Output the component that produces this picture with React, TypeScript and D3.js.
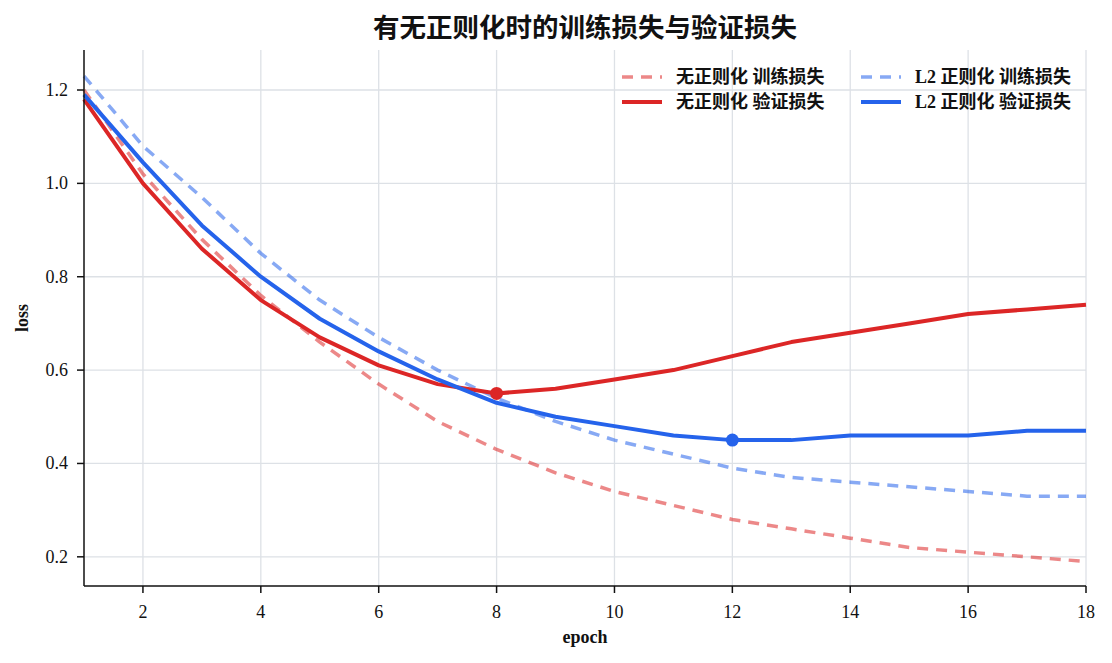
import React from "react";
import * as d3 from "d3";

// Epochs and per-epoch losses for the two training setups
const epochs = [1, 2, 3, 4, 5, 6, 7, 8, 9, 10, 11, 12, 13, 14, 15, 16, 17, 18];
const noRegTrain = [1.2, 1.02, 0.88, 0.76, 0.66, 0.57, 0.49, 0.43, 0.38, 0.34, 0.31, 0.28, 0.26, 0.24, 0.22, 0.21, 0.2, 0.19];
const noRegVal = [1.18, 1.0, 0.86, 0.75, 0.67, 0.61, 0.57, 0.55, 0.56, 0.58, 0.6, 0.63, 0.66, 0.68, 0.7, 0.72, 0.73, 0.74];
const l2Train = [1.23, 1.08, 0.97, 0.85, 0.75, 0.67, 0.6, 0.54, 0.49, 0.45, 0.42, 0.39, 0.37, 0.36, 0.35, 0.34, 0.33, 0.33];
const l2Val = [1.19, 1.045, 0.91, 0.8, 0.71, 0.64, 0.58, 0.53, 0.5, 0.48, 0.46, 0.45, 0.45, 0.46, 0.46, 0.46, 0.47, 0.47];

const xTicks = [2, 4, 6, 8, 10, 12, 14, 16, 18];
const yTicks = [0.2, 0.4, 0.6, 0.8, 1.0, 1.2];

const seriesNames = ["无正则化 训练损失", "无正则化 验证损失", "L2 正则化 训练损失", "L2 正则化 验证损失"];

const RED = "#dc2626";
const BLUE = "#2563eb";
const LATIN = "'Liberation Serif', 'Noto Sans CJK SC', serif";
const CJK = "'Liberation Serif', 'Noto Sans CJK SC', sans-serif";

const W = 1112;
const H = 663;
const m = { left: 84, right: 26, top: 50, bottom: 77 };

export default function App() {
  const x = d3.scaleLinear().domain([1, 18]).range([m.left, W - m.right]);
  const y = d3.scaleLinear().domain([0.1375, 1.2857]).range([H - m.bottom, m.top]);

  const line = d3
    .line<number>()
    .x((_, i) => x(epochs[i]))
    .y((d) => y(d));

  const series = [
    { data: noRegTrain, color: RED, dash: "11 8", width: 3.5, opacity: 0.55 },
    { data: l2Train, color: BLUE, dash: "11 8", width: 3.5, opacity: 0.55 },
    { data: noRegVal, color: RED, dash: null, width: 4, opacity: 1 },
    { data: l2Val, color: BLUE, dash: null, width: 4, opacity: 1 },
  ];

  // best validation epochs
  const redBest = noRegVal.indexOf(d3.min(noRegVal) as number);
  const blueBest = l2Val.indexOf(d3.min(l2Val) as number);

  const legend = [
    { name: seriesNames[0], color: RED, dash: "11 8", opacity: 0.55, col: 0, row: 0 },
    { name: seriesNames[1], color: RED, dash: null, opacity: 1, col: 0, row: 1 },
    { name: seriesNames[2], color: BLUE, dash: "11 8", opacity: 0.55, col: 1, row: 0 },
    { name: seriesNames[3], color: BLUE, dash: null, opacity: 1, col: 1, row: 1 },
  ];
  const legendX = [622, 861];
  const legendY = [77, 102];

  const x0 = m.left;
  const x1 = W - m.right;
  const yb = H - m.bottom;

  return (
    <svg width={W} height={H} style={{ position: "absolute", left: 0, top: 0, background: "#fff" }}>
      {/* grid */}
      <g stroke="#dde1e6" strokeWidth={1.3}>
        {xTicks.map((t) => (
          <line key={"gx" + t} x1={x(t)} x2={x(t)} y1={m.top} y2={yb} />
        ))}
        {yTicks.map((t) => (
          <line key={"gy" + t} x1={x0} x2={x1} y1={y(t)} y2={y(t)} />
        ))}
      </g>

      {/* lines */}
      {series.map((s, i) => (
        <path
          key={i}
          d={line(s.data) || ""}
          fill="none"
          stroke={s.color}
          strokeOpacity={s.opacity}
          strokeWidth={s.width}
          strokeDasharray={s.dash || undefined}
          strokeLinejoin="round"
        />
      ))}

      {/* best points */}
      <circle cx={x(epochs[redBest])} cy={y(noRegVal[redBest])} r={6.5} fill={RED} />
      <circle cx={x(epochs[blueBest])} cy={y(l2Val[blueBest])} r={6.5} fill={BLUE} />

      {/* axes */}
      <g stroke="#111" strokeWidth={1.5}>
        <line x1={x0} x2={x0} y1={m.top} y2={yb} />
        <line x1={x0} x2={x1} y1={yb} y2={yb} />
        {xTicks.map((t) => (
          <line key={"tx" + t} x1={x(t)} x2={x(t)} y1={yb} y2={yb + 7} />
        ))}
        {yTicks.map((t) => (
          <line key={"ty" + t} x1={x0 - 7} x2={x0} y1={y(t)} y2={y(t)} />
        ))}
      </g>
      <g fontFamily={LATIN} fontSize={18} fill="#111">
        {xTicks.map((t) => (
          <text key={"lx" + t} x={x(t)} y={yb + 32} textAnchor="middle">
            {t}
          </text>
        ))}
        {yTicks.map((t) => (
          <text key={"ly" + t} x={x0 - 16} y={y(t) + 6} textAnchor="end">
            {t.toFixed(1)}
          </text>
        ))}
      </g>

      <text x={(x0 + x1) / 2} y={643} textAnchor="middle" fontFamily={LATIN} fontSize={18} fontWeight="bold" fill="#111">
        epoch
      </text>
      <text
        transform={`translate(28, ${(m.top + yb) / 2}) rotate(-90)`}
        textAnchor="middle"
        fontFamily={LATIN}
        fontSize={18}
        fontWeight="bold"
        fill="#111"
      >
        loss
      </text>

      <text x={(x0 + x1) / 2} y={37} textAnchor="middle" fontFamily={CJK} fontSize={26.5} fontWeight="bold" fill="#111">
        有无正则化时的训练损失与验证损失
      </text>

      {/* legend */}
      {legend.map((l, i) => (
        <g key={"lg" + i}>
          <line
            x1={legendX[l.col]}
            x2={legendX[l.col] + 40}
            y1={legendY[l.row]}
            y2={legendY[l.row]}
            stroke={l.color}
            strokeOpacity={l.opacity}
            strokeWidth={l.dash ? 3.5 : 4}
            strokeDasharray={l.dash || undefined}
          />
          <text
            x={legendX[l.col] + 54}
            y={legendY[l.row] + 6}
            fontFamily={CJK}
            fontSize={18}
            fontWeight="bold"
            fill="#111"
          >
            {l.name}
          </text>
        </g>
      ))}
    </svg>
  );
}
